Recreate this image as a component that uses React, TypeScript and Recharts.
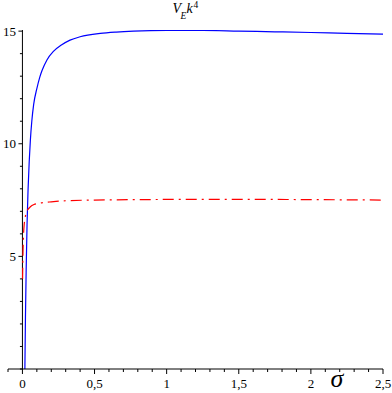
import { LineChart, Line, XAxis, YAxis, ReferenceLine } from "recharts"

// solid blue curve (sigma, value)
const sigmaSolid = [0.017, 0.021, 0.026, 0.032, 0.039, 0.047, 0.055, 0.065, 0.078, 0.1, 0.12, 0.136, 0.17, 0.215, 0.27, 0.33, 0.4, 0.54, 0.65, 0.77, 1.0, 1.25, 1.5, 1.75, 2.0, 2.25, 2.5]
const valuesSolid = [0, 2.3, 4.4, 6.4, 7.95, 9.2, 10.15, 11.0, 11.75, 12.45, 12.95, 13.25, 13.72, 14.1, 14.38, 14.6, 14.75, 14.9, 14.96, 15.0, 15.03, 15.03, 15.0, 14.97, 14.94, 14.9, 14.87]

// dash-dot red curve
const sigmaDashed = [0.001, 0.004, 0.008, 0.012, 0.017, 0.025, 0.04, 0.055, 0.08, 0.11, 0.16, 0.2, 0.3, 0.5, 0.8, 1.2, 1.6, 2.0, 2.5]
const valuesDashed = [4.0, 5.2, 6.0, 6.4, 6.65, 6.9, 7.1, 7.2, 7.3, 7.35, 7.4, 7.42, 7.47, 7.5, 7.52, 7.53, 7.53, 7.52, 7.5]

const xMajor = [0, 0.5, 1, 1.5, 2, 2.5]
const xLabels = ["0", "0,5", "1", "1,5", "2", "2,5"]
const xTicks = Array.from({ length: 27 }, (_, i) => (i - 1) / 10)
const yMajor = [5, 10, 15]
const yLabels = ["5", "10", "15"]
const yTicks = Array.from({ length: 16 }, (_, i) => i)

const W = 392
const H = 393
const X_MIN = -0.1
const X_MAX = 2.5
const margin = { top: 30, right: 9, bottom: 0, left: 0 }
const Y_AXIS_W = 8
const plotLeft = margin.left + Y_AXIS_W
const plotWidth = W - plotLeft - margin.right
const yAxisX = plotLeft + ((0 - X_MIN) / (X_MAX - X_MIN)) * plotWidth

const font = "Liberation Serif, Times New Roman, serif"

function XTick(props: any) {
  const { x, y, payload } = props
  const v = Math.round(payload.value * 10) / 10
  const idx = xMajor.findIndex((m) => Math.abs(m - v) < 1e-6)
  const major = idx >= 0
  return (
    <g>
      <line x1={x} x2={x} y1={y} y2={y + (major ? 5 : 3)} stroke="#000" strokeWidth={1} />
      {major && (
        <text x={x} y={y + 19} textAnchor="middle" style={{ fontFamily: font, fontSize: 13 }} fill="#000">
          {xLabels[idx]}
        </text>
      )}
    </g>
  )
}

function YTick(props: any) {
  const { y, payload } = props
  const idx = yMajor.indexOf(payload.value)
  const major = idx >= 0
  return (
    <g>
      <line x1={yAxisX} x2={yAxisX - (major ? 4 : 2.5)} y1={y} y2={y} stroke="#000" strokeWidth={1} />
      {major && (
        <text x={yAxisX - 6.5} y={y + 4.5} textAnchor="end" style={{ fontFamily: font, fontSize: 13 }} fill="#000">
          {yLabels[idx]}
        </text>
      )}
    </g>
  )
}

export default function App() {
  const solidData = sigmaSolid.map((s, i) => ({ s, v: valuesSolid[i] }))
  const dashedData = sigmaDashed.map((s, i) => ({ s, v: valuesDashed[i] }))

  return (
    <div style={{ position: "absolute", left: 0, top: 0, width: W, height: H, background: "#fff" }}>
      <LineChart width={W} height={H} margin={margin}>
        <XAxis
          dataKey="s"
          type="number"
          domain={[X_MIN, X_MAX]}
          ticks={xTicks}
          interval={0}
          tick={XTick}
          tickLine={false}
          tickSize={0}
          tickMargin={0}
          axisLine={{ stroke: "#000" }}
          height={24}
          allowDataOverflow
        />
        <YAxis
          type="number"
          domain={[0, 15.05]}
          ticks={yTicks}
          interval={0}
          tick={YTick}
          tickLine={false}
          tickSize={0}
          tickMargin={0}
          axisLine={false}
          width={Y_AXIS_W}
          allowDataOverflow
        />
        <ReferenceLine x={0} stroke="#000" strokeWidth={1} />
        <Line
          data={solidData}
          dataKey="v"
          type="monotone"
          stroke="#0000ff"
          strokeWidth={1.2}
          dot={false}
          isAnimationActive={false}
        />
        <Line
          data={dashedData}
          dataKey="v"
          type="monotone"
          stroke="#ff0000"
          strokeWidth={1.2}
          strokeDasharray="11 5 2 5"
          dot={false}
          isAnimationActive={false}
        />
      </LineChart>
      <svg width={W} height={H} style={{ position: "absolute", left: 0, top: 0, pointerEvents: "none" }}>
        <text fill="#000" style={{ fontFamily: font, fontStyle: "italic" }}>
          <tspan x={172.5} y={13} style={{ fontSize: 14 }}>V</tspan>
          <tspan x={180.5} y={19.3} style={{ fontSize: 9.5 }}>E</tspan>
          <tspan x={186.5} y={12.7} style={{ fontSize: 14 }}>k</tspan>
          <tspan x={193.5} y={7.5} style={{ fontSize: 9.5, fontStyle: "normal" }}>4</tspan>
        </text>
        <text x={337} y={387} textAnchor="middle" fill="#000" style={{ fontFamily: font, fontSize: 26, fontStyle: "italic" }}>
          σ
        </text>
      </svg>
    </div>
  )
}
